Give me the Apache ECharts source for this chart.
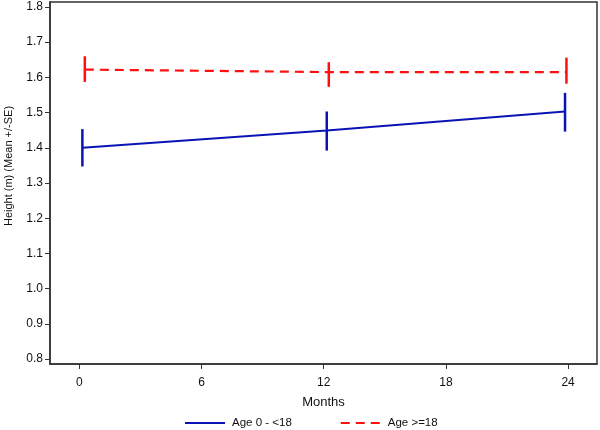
<!DOCTYPE html>
<html><head><meta charset="utf-8">
<script src="https://cdn.jsdelivr.net/npm/echarts@6/dist/echarts.min.js"></script>
<style>html,body{margin:0;padding:0;background:#fff}#c{width:600px;height:430px}</style>
</head><body><div id="c"></div>
<script>
var xTickValues = [0, 6, 12, 18, 24];
var yTickValues = [0.8, 0.9, 1.0, 1.1, 1.2, 1.3, 1.4, 1.5, 1.6, 1.7, 1.8];

var youngMonths = [0.15, 12.15, 23.85];
var youngMean   = [1.400, 1.449, 1.503];
var youngLow    = [1.347, 1.392, 1.446];
var youngHigh   = [1.453, 1.503, 1.556];

var adultMonths = [0.27, 12.25, 23.92];
var adultMean   = [1.622, 1.615, 1.615];
var adultLow    = [1.587, 1.573, 1.582];
var adultHigh   = [1.660, 1.643, 1.656];

var BLUE = '#0a14b4', RED = '#ff1010';
var font = 'Liberation Sans, Arial, sans-serif';

function pairs(xs, ys){ return xs.map(function(x,i){ return [x, ys[i]]; }); }
function bars(xs, lo, hi){ return xs.map(function(x,i){ return [x, lo[i], hi[i]]; }); }
function errRender(color, width){
  return function(params, api){
    var p1 = api.coord([api.value(0), api.value(1)]);
    var p2 = api.coord([api.value(0), api.value(2)]);
    return {type:'line', shape:{x1:p1[0], y1:p1[1], x2:p2[0], y2:p2[1]},
      style:{stroke:color, lineWidth:width}};
  };
}

var chart = echarts.init(document.getElementById('c'), null, {renderer:'canvas'});
chart.setOption({
  animation:false,
  grid:{left:50, right:3, top:2, bottom:66, outerBoundsMode:'none', containLabel:false,
    show:true, borderColor:'#333', borderWidth:1.5, backgroundColor:'transparent'},
  xAxis:{type:'value', min:-1.44, max:25.42,
    name:'Months', nameLocation:'middle', nameGap:32,
    nameTextStyle:{fontFamily:font, fontSize:13, color:'#111'},
    axisLine:{show:true, onZero:false, lineStyle:{color:'#333', width:1.5}},
    axisTick:{show:true, length:5, customValues:xTickValues, lineStyle:{color:'#333'}},
    axisLabel:{customValues:xTickValues, margin:13, fontFamily:font, fontSize:12, color:'#111'},
    splitLine:{show:false}},
  yAxis:{type:'value', min:0.786, max:1.814,
    name:'Height (m) (Mean +/-SE)', nameLocation:'middle', nameGap:36, nameRotate:90,
    nameTextStyle:{fontFamily:font, fontSize:11, color:'#111', padding:[0,0,0,34]},
    axisLine:{show:true, onZero:false, lineStyle:{color:'#333', width:1.5}},
    axisTick:{show:true, length:5, customValues:yTickValues, lineStyle:{color:'#333'}},
    axisLabel:{customValues:yTickValues, margin:7, fontFamily:font, fontSize:12, color:'#111',
      formatter:function(v){ return v.toFixed(1); }},
    splitLine:{show:false}},
  legend:{top:412, left:179, itemGap:48, itemWidth:40, itemHeight:10,
    itemStyle:{opacity:0},
    textStyle:{fontFamily:font, fontSize:11.5, color:'#111', padding:[0,0,0,2]},
    data:['Age 0 - <18','Age >=18']},
  series:[
    {name:'Age 0 - <18', type:'line', data:pairs(youngMonths, youngMean), symbol:'none',
      lineStyle:{color:BLUE, width:2}, itemStyle:{color:BLUE}},
    {name:'Age >=18', type:'line', data:pairs(adultMonths, adultMean), symbol:'none',
      lineStyle:{color:RED, width:2.2, type:[9,6]}, itemStyle:{color:RED}},
    {type:'custom', data:bars(youngMonths, youngLow, youngHigh), renderItem:errRender(BLUE, 2.5), silent:true},
    {type:'custom', data:bars(adultMonths, adultLow, adultHigh), renderItem:errRender(RED, 2.5), silent:true}
  ]
});
</script></body></html>
